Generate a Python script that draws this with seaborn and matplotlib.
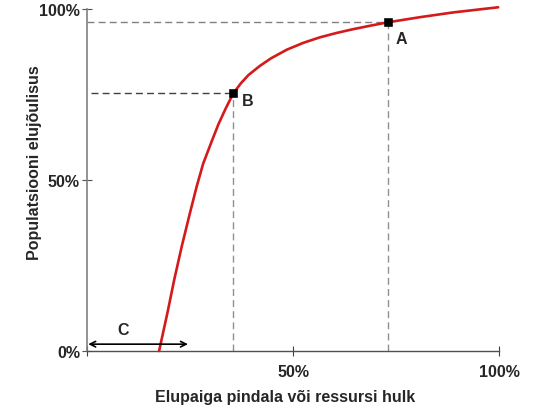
import numpy as np
import pandas as pd
import matplotlib
matplotlib.use("Agg")
import matplotlib.pyplot as plt
import seaborn as sns

# kõvera punktid (loetud pildilt)
habitat = [17.5, 19.6, 21.2, 23.0, 25.0, 26.6, 28.2, 30.3, 31.9, 33.7, 35.5, 37.3, 39.2,
           42.0, 44.7, 48.5, 52.5, 56.5, 60.6, 64.6, 68.7, 73.0, 80.8, 88.9, 99.8]
survival = [0.0, 11.6, 21.0, 30.6, 40.4, 48.0, 54.8, 61.4, 66.3, 71.0, 75.3, 78.2, 80.7,
            83.4, 85.6, 88.1, 90.1, 91.7, 93.0, 94.1, 95.1, 96.1, 97.6, 99.0, 100.5]

point_names = ["A", "B"]
point_x = [73.0, 35.5]
point_y = [96.1, 75.3]

c_range = [0.3, 24.5]
c_level = 2.0

tick_vals = [0, 50, 100]
tick_labels = ["0%", "50%", "100%"]

sns.set_style("white")
plt.rcParams["font.family"] = ["Liberation Sans", "DejaVu Sans"]

fig = plt.figure(figsize=(5.39, 4.06), dpi=100)
ax = fig.add_axes([0.1614, 0.133, 0.7644, 0.8424])

curve = pd.DataFrame({"x": habitat, "y": survival})
sns.lineplot(data=curve, x="x", y="y", color="#d41a1a", linewidth=1.9, ax=ax, zorder=3)
ax.lines[0].set_clip_on(False)
ax.lines[0].set_solid_joinstyle("round")

# katkendjooned punktideni
ax.plot([0, point_x[0]], [point_y[0], point_y[0]], ls=(0, (5, 3)), color="#808080", lw=1.0)
ax.plot([point_x[0], point_x[0]], [0, point_y[0]], ls=(0, (5, 3)), color="#909090", lw=1.0)
ax.plot([1, point_x[1]], [point_y[1], point_y[1]], ls=(0, (5, 3)), color="#404040", lw=1.0)
ax.plot([point_x[1], point_x[1]], [0, point_y[1]], ls=(0, (5, 3)), color="#909090", lw=1.0)

sns.scatterplot(x=point_x, y=point_y, marker="s", color="black", s=30, ax=ax, zorder=4, edgecolor="black")

ax.text(point_x[0] + 1.8, point_y[0] - 4.8, point_names[0], fontsize=11.5, fontweight="bold", ha="left", va="center")
ax.text(point_x[1] + 2.2, point_y[1] - 2.0, point_names[1], fontsize=11.5, fontweight="bold", ha="left", va="center")

ax.annotate("", xy=(c_range[0], c_level), xytext=(c_range[1], c_level),
            arrowprops=dict(arrowstyle="<->", color="black", lw=1.2, shrinkA=0, shrinkB=0))
ax.text(8.7, 6.2, "C", fontsize=11.5, fontweight="bold", ha="center", va="center")

ax.set_xlim(0, 100)
ax.set_ylim(0, 100)
ax.set_xticks(tick_vals)
ax.set_xticklabels(["", tick_labels[1], tick_labels[2]])
ax.set_yticks(tick_vals)
ax.set_yticklabels(tick_labels)
ax.tick_params(axis="x", bottom=True, direction="inout", length=6.5, width=0.8, color="#404040", labelsize=11.5, pad=6)
ax.tick_params(axis="y", left=True, direction="inout", length=6.5, width=0.8, color="#505050", labelsize=11.5, pad=1.8)
for lab in ax.get_xticklabels() + ax.get_yticklabels():
    lab.set_fontweight("bold")

for side in ["top", "right"]:
    ax.spines[side].set_visible(False)
ax.spines["left"].set_color("#808080")
ax.spines["bottom"].set_color("#505050")
ax.spines["left"].set_linewidth(1.2)
ax.spines["bottom"].set_linewidth(1.0)

ax.set_xlabel("Elupaiga pindala või ressursi hulk", fontsize=11.5, fontweight="bold")
ax.xaxis.set_label_coords(0.48, -0.11)
ax.set_ylabel("Populatsiooni elujõulisus", fontsize=11.5, fontweight="bold")
ax.yaxis.set_label_coords(-0.109, 0.553)

fig.savefig("out.png", dpi=100)
